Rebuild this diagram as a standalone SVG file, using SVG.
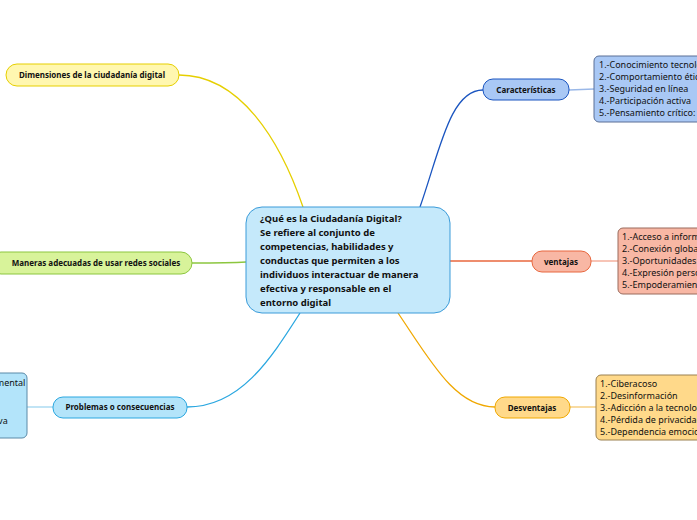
<svg xmlns="http://www.w3.org/2000/svg" width="697" height="520" viewBox="0 0 697 520">
<style>
text{font-family:"Noto Sans","Open Sans",sans-serif;font-size:9px;fill:#111}
.b{font-weight:bold;font-size:8px}
.c{font-weight:bold;font-size:9.5px}
.l{fill:none;stroke-width:1.3}
</style>
<rect width="697" height="520" fill="#fff"/>
<g id="connectors">
<path class="l" stroke="#e6cf00" d="M303 207 C280 140 240 75 179 75"/>
<path class="l" stroke="#8cc63f" d="M246 262 C230 263 210 263 192 263"/>
<path class="l" stroke="#2aa7e0" d="M300 313 C270 360 240 407 187 407"/>
<path class="l" stroke="#9fd6f0" d="M27 407 L53 407"/>
<path class="l" stroke="#1a55c0" d="M420 207 C440 150 450 90 483 90"/>
<path class="l" stroke="#9ab8e8" d="M569 90 L594 89"/>
<path class="l" stroke="#e8673e" d="M450 261 C490 261 510 261 532 261"/>
<path class="l" stroke="#f3a58e" d="M591 261 L618 261"/>
<path class="l" stroke="#f0a800" d="M398 313 C430 360 455 407 495 407"/>
<path class="l" stroke="#f5c870" d="M570 407 L596 407"/>
</g>
<g id="center">
<rect x="246" y="207" width="204" height="106" rx="16" fill="#c5e9fb" stroke="#3a9bd9"/>
<text class="c"><tspan x="260" y="222">¿Qué es la Ciudadanía Digital?</tspan><tspan x="260" y="236">Se refiere al conjunto de</tspan><tspan x="260" y="250">competencias, habilidades y</tspan><tspan x="260" y="264">conductas que permiten a los</tspan><tspan x="260" y="278">individuos interactuar de manera</tspan><tspan x="260" y="292">efectiva y responsable en el</tspan><tspan x="260" y="306">entorno digital</tspan></text>
</g>
<g id="dimensiones"><rect x="6" y="64" width="173" height="22" rx="11" fill="#fff7b0" stroke="#e6cf00"/><text class="b" x="92" y="78" text-anchor="middle">Dimensiones de la ciudadanía digital</text></g>
<g id="maneras"><rect x="-10" y="252" width="202" height="22" rx="11" fill="#d8f39a" stroke="#8cc63f"/><text class="b" x="96" y="266" text-anchor="middle">Maneras adecuadas de usar redes sociales</text></g>
<g id="problemas"><rect x="53" y="397" width="134" height="21" rx="10" fill="#b3e4fa" stroke="#2aa7e0"/><text class="b" x="120" y="410" text-anchor="middle">Problemas o consecuencias</text></g>
<g id="problemas-list"><rect x="-20" y="373" width="47" height="65" rx="5" fill="#b3e4fa" stroke="#5a8aa8"/><text x="-30" y="386">Salud mental</text><text x="-30" y="424">Negativa</text></g>
<g id="caracteristicas"><rect x="483" y="79" width="86" height="21" rx="10" fill="#a9c8f5" stroke="#1a55c0"/><text class="b" x="526" y="93" text-anchor="middle">Características</text></g>
<g id="caracteristicas-list"><rect x="594" y="56" width="120" height="66" rx="5" fill="#a9c8f5" stroke="#5a6f96"/><text><tspan x="599" y="68">1.-Conocimiento tecnológico</tspan><tspan x="599" y="80">2.-Comportamiento ético</tspan><tspan x="599" y="92">3.-Seguridad en línea</tspan><tspan x="599" y="104">4.-Participación activa</tspan><tspan x="599" y="116">5.-Pensamiento crítico:</tspan></text></g>
<g id="ventajas"><rect x="532" y="251" width="59" height="21" rx="10" fill="#f8b7a4" stroke="#e8673e"/><text class="b" x="561" y="265" text-anchor="middle">ventajas</text></g>
<g id="ventajas-list"><rect x="618" y="228" width="100" height="66" rx="5" fill="#f8b7a4" stroke="#9a6a5c"/><text><tspan x="622" y="240">1.-Acceso a información</tspan><tspan x="622" y="252">2.-Conexión global</tspan><tspan x="622" y="264">3.-Oportunidades</tspan><tspan x="622" y="276">4.-Expresión personal</tspan><tspan x="622" y="288">5.-Empoderamiento</tspan></text></g>
<g id="desventajas"><rect x="495" y="397" width="75" height="21" rx="10" fill="#ffd98a" stroke="#f0a800"/><text class="b" x="532" y="411" text-anchor="middle">Desventajas</text></g>
<g id="desventajas-list"><rect x="596" y="375" width="120" height="65" rx="5" fill="#ffd98a" stroke="#9a8050"/><text><tspan x="600" y="387">1.-Ciberacoso</tspan><tspan x="600" y="399">2.-Desinformación</tspan><tspan x="600" y="411">3.-Adicción a la tecnología</tspan><tspan x="600" y="423">4.-Pérdida de privacidad</tspan><tspan x="600" y="435">5.-Dependencia emocional</tspan></text></g>
</svg>
